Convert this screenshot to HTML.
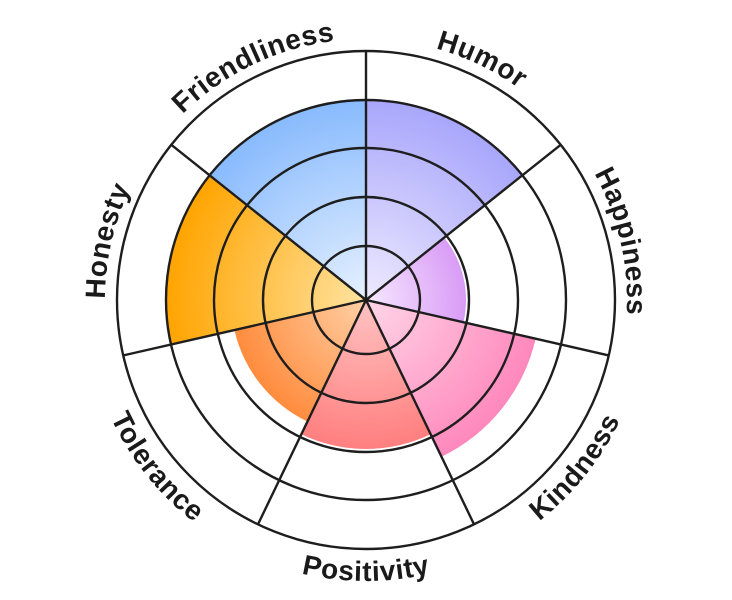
<!DOCTYPE html>
<html><head><meta charset="utf-8"><style>
html,body{margin:0;padding:0;background:#fff;}
svg{display:block;}
text{font-family:"Liberation Sans",sans-serif;font-weight:bold;font-size:28px;letter-spacing:0.6px;fill:#1a1a1a;}
</style></head><body>
<svg id="s" width="732" height="600" viewBox="0 0 732 600" xmlns="http://www.w3.org/2000/svg"></svg>
<script>
var cx=366,cy=300,S=360/7;
function P(r,a){a=a*Math.PI/180;return [cx+r*Math.sin(a),cy-r*Math.cos(a)];}
var sec=[
 ["Humor",201,"#eeeaff","#a8a6fb"],
 ["Happiness",100,"#f6e8ff","#d99cf6"],
 ["Kindness",174,"#ffd6e8","#ff88bc"],
 ["Positivity",149,"#ffc3c3","#ff7f7f"],
 ["Tolerance",135,"#ffd0a6","#ff8c3e"],
 ["Honesty",201,"#ffe3a0","#ffa400"],
 ["Friendliness",201,"#e6f1ff","#88bafd"]];
var h='<defs>';
sec.forEach(function(s,i){h+='<radialGradient id="g'+i+'" gradientUnits="userSpaceOnUse" cx="'+cx+'" cy="'+cy+'" r="'+s[1]+'"><stop offset="0" stop-color="'+s[2]+'"/><stop offset="1" stop-color="'+s[3]+'"/></radialGradient>';});
sec.forEach(function(s,i){
 var a=i*S+S/2,bottom=(a>100&&a<260);
 var r=bottom?281:261, a1=a-45,a2=a+45,p1,p2,sw;
 if(bottom){p1=P(r,a2);p2=P(r,a1);sw=0;}else{p1=P(r,a1);p2=P(r,a2);sw=1;}
 h+='<path id="t'+i+'" d="M'+p1[0]+' '+p1[1]+' A'+r+' '+r+' 0 0 '+sw+' '+p2[0]+' '+p2[1]+'"/>';
});
h+='</defs>';
sec.forEach(function(s,i){
 var a=P(s[1],i*S),b=P(s[1],(i+1)*S);
 h+='<path d="M'+cx+' '+cy+' L'+a[0]+' '+a[1]+' A'+s[1]+' '+s[1]+' 0 0 1 '+b[0]+' '+b[1]+'Z" fill="url(#g'+i+')"/>';
});
[54,103,152,200,249].forEach(function(r){h+='<circle cx="'+cx+'" cy="'+cy+'" r="'+r+'" fill="none" stroke="#1e1e1e" stroke-width="2.4"/>';});
for(var i=0;i<7;i++){var p=P(249,i*S);h+='<line x1="'+cx+'" y1="'+cy+'" x2="'+p[0]+'" y2="'+p[1]+'" stroke="#1e1e1e" stroke-width="2.4"/>';}
sec.forEach(function(s,i){h+='<text><textPath href="#t'+i+'" startOffset="50%" text-anchor="middle">'+s[0]+'</textPath></text>';});
document.getElementById('s').innerHTML=h;
</script>
</body></html>
